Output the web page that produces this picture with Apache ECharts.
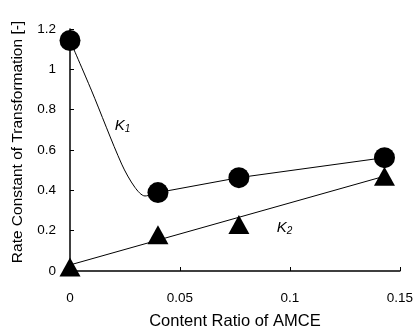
<!DOCTYPE html>
<html>
<head>
<meta charset="utf-8">
<script src="https://cdn.jsdelivr.net/npm/echarts@6/dist/echarts.min.js"></script>
<style>
    html, body { margin: 0; padding: 0; background: #fff; }
    #chart { width: 416px; height: 335px; }
</style>
</head>
<body>
<div id="chart"></div>
<script>
    // measured points
    var ratioK1 = [0, 0.04, 0.0768, 0.143];
    var valueK1 = [1.143, 0.389, 0.463, 0.562];
    var ratioK2 = [0, 0.04, 0.0768, 0.143];
    var valueK2 = [0.02, 0.18, 0.23, 0.47];

    // drawn curve for K1: falling part, then straight segments
    var curveK1x = [0, 0.0097, 0.0235, 0.0295, 0.0341, 0.04];
    var curveK1y = [1.143, 0.897, 0.53, 0.415, 0.372, 0.389];
    var segK1x = [0.04, 0.0768, 0.143];
    var segK1y = [0.389, 0.463, 0.562];

    // straight fit line for K2
    var fitK2x = [0, 0.143];
    var fitK2y = [0.03, 0.47];

    function pairs(xs, ys) {
        return xs.map(function (x, i) { return [x, ys[i]]; });
    }

    var font = 'Liberation Sans, Arial, sans-serif';
    var chart = echarts.init(document.getElementById('chart'));

    var option = {
        animation: false,
        backgroundColor: '#fff',
        grid: { left: 70, right: 14, top: 29, bottom: 64 },
        xAxis: {
            type: 'value', min: 0, max: 0.15, interval: 0.05,
            name: 'Content Ratio of AMCE',
            nameLocation: 'middle', nameGap: 42,
            nameTextStyle: { fontFamily: font, fontSize: 16.5, color: '#000' },
            axisLine: { lineStyle: { color: '#000', width: 1.5 } },
            axisTick: { inside: true, length: 4, lineStyle: { color: '#000' } },
            axisLabel: { fontFamily: font, fontSize: 13.5, color: '#000', margin: 20,
                formatter: function (v) { return String(+v.toFixed(2)); } },
            splitLine: { show: false }
        },
        yAxis: {
            type: 'value', min: 0, max: 1.2, interval: 0.2,
            name: 'Rate Constant of Transformation [-]',
            nameLocation: 'middle', nameGap: 44,
            nameTextStyle: { fontFamily: font, fontSize: 15.5, color: '#000', padding: [0, 0, 0, 16] },
            axisLine: { lineStyle: { color: '#000', width: 1.5 } },
            axisTick: { inside: true, length: 4, lineStyle: { color: '#000' } },
            axisLabel: { fontFamily: font, fontSize: 13.5, color: '#000', margin: 14,
                formatter: function (v) { return String(+v.toFixed(1)); } },
            splitLine: { show: false }
        },
        series: [
            {
                type: 'line', data: pairs(curveK1x, curveK1y),
                smooth: 0.3, symbol: 'none',
                lineStyle: { color: '#000', width: 1 }
            },
            {
                type: 'line', data: pairs(segK1x, segK1y),
                symbol: 'none',
                lineStyle: { color: '#000', width: 1 }
            },
            {
                type: 'line', data: pairs(fitK2x, fitK2y),
                symbol: 'none',
                lineStyle: { color: '#000', width: 1 }
            },
            {
                type: 'scatter', data: pairs(ratioK1, valueK1),
                symbol: 'circle', symbolSize: 21,
                itemStyle: { color: '#000', opacity: 1 }
            },
            {
                type: 'scatter', data: pairs(ratioK2, valueK2),
                symbol: 'triangle', symbolSize: [21, 19],
                itemStyle: { color: '#000', opacity: 1 }
            }
        ]
    };
    chart.setOption(option);

    var p1 = chart.convertToPixel({ gridIndex: 0 }, [0.0203, 0.76]);
    var p2 = chart.convertToPixel({ gridIndex: 0 }, [0.094, 0.253]);
    function kLabel(pos, sub) {
        return {
            type: 'text', x: pos[0], y: pos[1],
            style: {
                text: '{k|K}{s|' + sub + '}',
                fill: '#000',
                rich: {
                    k: { fontFamily: font, fontSize: 15, fontStyle: 'italic', fill: '#000' },
                    s: { fontFamily: font, fontSize: 10, fontStyle: 'italic', fill: '#000', padding: [6, 0, 0, 0] }
                }
            }
        };
    }
    chart.setOption({ graphic: [kLabel(p1, '1'), kLabel(p2, '2')] });
</script>
</body>
</html>
